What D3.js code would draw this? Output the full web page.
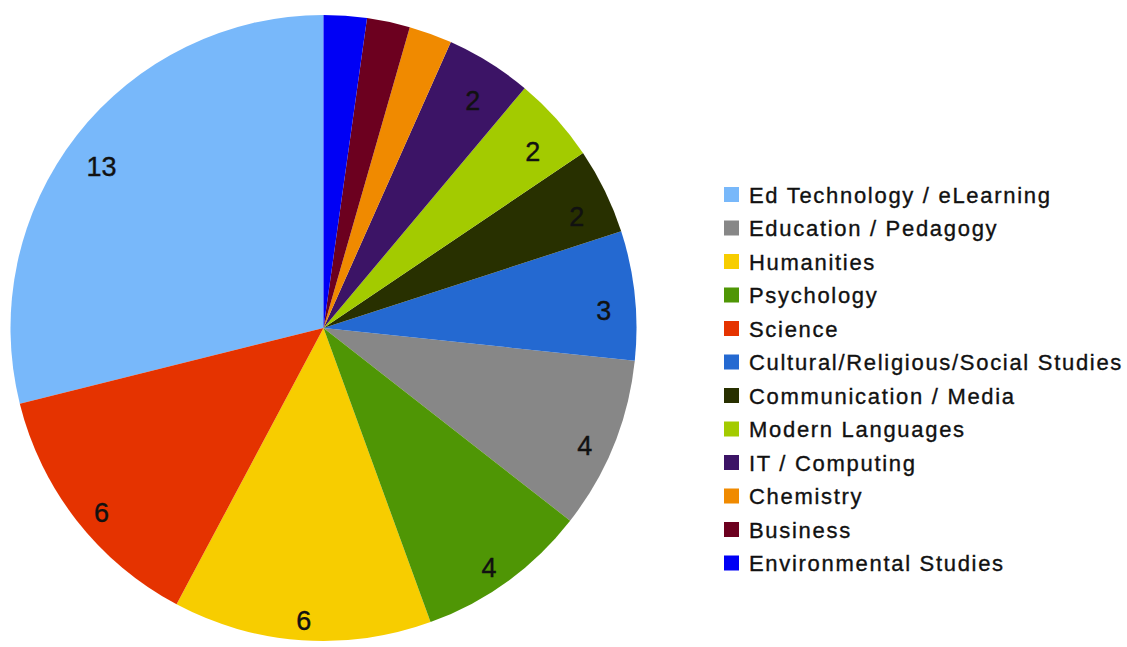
<!DOCTYPE html>
<html>
<head>
<meta charset="utf-8">
<script src="https://cdn.jsdelivr.net/npm/d3@7"></script>
<style>
  body { margin: 0; background: #fff; }
  text { font-family: "Liberation Sans", Arial, Helvetica, sans-serif; }
</style>
</head>
<body>
<div id="chart"></div>
<script>
// legend order
const categories = ["Ed Technology / eLearning", "Education / Pedagogy", "Humanities", "Psychology",
  "Science", "Cultural/Religious/Social Studies", "Communication / Media", "Modern Languages",
  "IT / Computing", "Chemistry", "Business", "Environmental Studies"];
const counts = [13, 4, 6, 4, 6, 3, 2, 2, 2, 1, 1, 1];
const colors = ["#78b8fa", "#878787", "#f7cd00", "#4f9605", "#e53300", "#2469d1",
  "#283000", "#a3cb00", "#3c1466", "#f08a00", "#6c001f", "#0000f5"];
// order of the slices going clockwise from 12 o'clock
const sliceOrder = ["Environmental Studies", "Business", "Chemistry", "IT / Computing",
  "Modern Languages", "Communication / Media", "Cultural/Religious/Social Studies",
  "Education / Pedagogy", "Psychology", "Humanities", "Science", "Ed Technology / eLearning"];

const width = 1127, height = 647;
const cx = 323.5, cy = 328, radius = 313;

const data = categories.map((c, i) => ({ name: c, value: counts[i], color: colors[i] }));

const svg = d3.select("#chart").append("svg")
  .attr("width", width)
  .attr("height", height);

const pie = d3.pie()
  .value(d => d.value)
  .sort((a, b) => sliceOrder.indexOf(a.name) - sliceOrder.indexOf(b.name));

const arc = d3.arc().innerRadius(0).outerRadius(radius);
const labelArc = d3.arc().innerRadius(radius * 0.9).outerRadius(radius * 0.9);

const g = svg.append("g").attr("transform", `translate(${cx},${cy})`);
const arcs = pie(data);

g.selectAll("path")
  .data(arcs)
  .join("path")
  .attr("d", arc)
  .attr("fill", d => d.data.color);

// only slices with more than one get a number
g.selectAll("text")
  .data(arcs.filter(d => d.data.value > 1))
  .join("text")
  .attr("transform", d => {
    const [x, y] = labelArc.centroid(d);
    return `translate(${x},${y + 12})`;
  })
  .attr("text-anchor", "middle")
  .attr("dominant-baseline", "central")
  .attr("font-size", 27)
  .attr("fill", "#111")
  .attr("stroke", "#111")
  .attr("stroke-width", 0.4)
  .text(d => d.data.value);

const legend = svg.append("g").attr("transform", "translate(724,187)");
const rows = legend.selectAll("g")
  .data(data)
  .join("g")
  .attr("transform", (d, i) => `translate(0,${i * 33.5})`);

rows.append("rect")
  .attr("width", 15)
  .attr("height", 15)
  .attr("fill", d => d.color);

rows.append("text")
  .attr("x", 25)
  .attr("y", 8)
  .attr("dominant-baseline", "central")
  .attr("font-size", 22)
  .attr("letter-spacing", 1.7)
  .attr("fill", "#111")
  .attr("stroke", "#111")
  .attr("stroke-width", 0.35)
  .text(d => d.name);
</script>
</body>
</html>
